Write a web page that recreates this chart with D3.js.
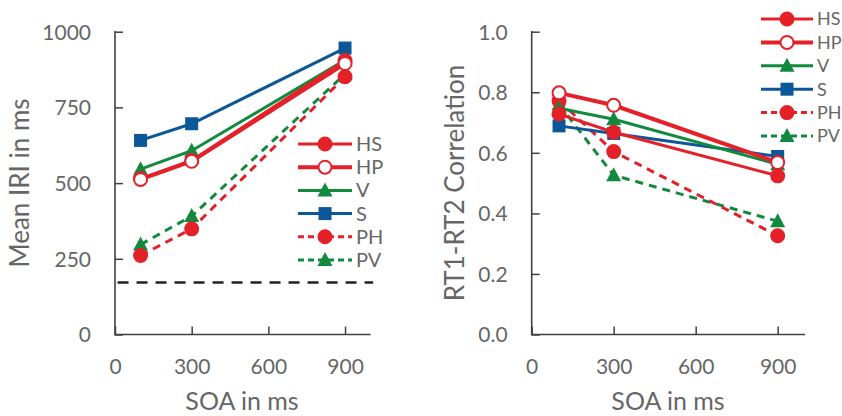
<!DOCTYPE html>
<html><head><meta charset="utf-8">
<script src="https://cdn.jsdelivr.net/npm/d3@7"></script>
<style>body{margin:0;background:#fff}svg{display:block}text{font-family:Lato,"Open Sans",sans-serif}</style>
</head><body><svg id="c" width="842" height="416"></svg>
<script>
const soa = [100, 300, 900];
const seriesNames = ["HS", "HP", "V", "S", "PH", "PV"];
// Left panel: Mean IRI in ms
const iriHS = [515, 575, 905];
const iriHP = [512, 572, 895];
const iriV  = [546, 607, 906];
const iriS  = [641, 696, 946];
const iriPH = [261, 349, 851];
const iriPV = [297, 391, 860];
const iriBaseline = 172;
// Right panel: RT1-RT2 correlation
const corHS = [0.728, 0.668, 0.524];
const corHP = [0.798, 0.757, 0.568];
const corV  = [0.747, 0.711, 0.562];
const corS  = [0.689, 0.664, 0.588];
const corPH = [0.772, 0.604, 0.326];
const corPV = [0.760, 0.526, 0.374];
const xTicks = [0, 300, 600, 900];
const yTicksL = [0, 250, 500, 750, 1000];
const yTicksR = [0, 0.2, 0.4, 0.6, 0.8, 1.0];

const RED = "#E42129", GREEN = "#128A3E", BLUE = "#0B5798", GRAY = "#666666", AX = "#404040";
const style = {
  HS: {color: RED, dash: null, marker: "circle", fill: RED, w: 3},
  HP: {color: RED, dash: null, marker: "circle", fill: "#fff", w: 4},
  V:  {color: GREEN, dash: null, marker: "triangle", fill: GREEN, w: 3},
  S:  {color: BLUE, dash: null, marker: "square", fill: BLUE, w: 3},
  PH: {color: RED, dash: "8,6", marker: "circle", fill: RED, w: 3},
  PV: {color: GREEN, dash: "8,6", marker: "triangle", fill: GREEN, w: 3}
};
const svg = d3.select("#c");

function marker(g, type, x, y, s) {
  if (type === "circle") {
    g.append("circle").attr("cx", x).attr("cy", y).attr("r", 6.5)
      .attr("fill", s.fill).attr("stroke", s.color).attr("stroke-width", 2);
  } else if (type === "square") {
    g.append("rect").attr("x", x - 6.5).attr("y", y - 6.5).attr("width", 13).attr("height", 13).attr("fill", s.fill);
  } else {
    g.append("path").attr("d", `M${x},${y-8}L${x+7.5},${y+6}L${x-7.5},${y+6}Z`).attr("fill", s.fill);
  }
}

function panel(opt) {
  const x = d3.scaleLinear().domain([0, 1000]).range([opt.x0, opt.x1]);
  const y = d3.scaleLinear().domain(opt.yDomain).range([334.5, 31.7]);
  const g = svg.append("g");
  const ya = g.append("g").attr("transform", `translate(${opt.x0},0)`)
    .call(d3.axisRight(y).tickValues(opt.yTicks).tickSize(8).tickFormat(opt.fmt));
  ya.select(".domain").remove();
  ya.selectAll("line").attr("stroke", AX).attr("stroke-width", 1.5);
  ya.selectAll("text").attr("x", -24).attr("text-anchor", "end").attr("fill", GRAY)
    .attr("font-size", 21).attr("dy", "0.35em");
  const xa = g.append("g").attr("transform", `translate(0,334.5)`)
    .call(d3.axisTop(x).tickValues(xTicks).tickSize(8).tickFormat(d3.format("d")));
  xa.select(".domain").remove();
  xa.selectAll("line").attr("stroke", AX).attr("stroke-width", 1.5);
  xa.selectAll("text").attr("y", 39).attr("fill", GRAY).attr("font-size", 21).attr("dy", 0);
  g.append("line").attr("x1", opt.x0).attr("x2", opt.x0).attr("y1", 31).attr("y2", 335.3).attr("stroke", AX).attr("stroke-width", 1.6);
  g.append("line").attr("x1", opt.x0 - 0.8).attr("x2", opt.x1).attr("y1", 334.5).attr("y2", 334.5).attr("stroke", AX).attr("stroke-width", 1.6);
  g.append("text").attr("transform", `translate(${opt.ytx},183) rotate(-90)`).attr("text-anchor", "middle")
    .attr("dy", "0.35em").attr("fill", GRAY).attr("font-size", 26).text(opt.ytitle);
  g.append("text").attr("x", opt.xtx).attr("y", 410).attr("text-anchor", "middle")
    .attr("fill", GRAY).attr("font-size", 25).text("SOA in ms");
  if (opt.baseline != null) {
    g.append("line").attr("x1", x(10)).attr("x2", x(1010)).attr("y1", y(opt.baseline)).attr("y2", y(opt.baseline))
      .attr("stroke", "#222").attr("stroke-width", 2.5).attr("stroke-dasharray", "11,8");
  }
  const line = d3.line().x((d, i) => x(soa[i])).y(d => y(d));
  const order = ["PV", "PH", "S", "V", "HS", "HP"];
  order.forEach(n => {
    const s = style[n];
    g.append("path").attr("d", line(opt.data[n])).attr("fill", "none").attr("stroke", s.color)
      .attr("stroke-width", s.w).attr("stroke-dasharray", s.dash);
  });
  order.forEach(n => {
    const s = style[n];
    opt.data[n].forEach((v, i) => marker(g, s.marker, x(soa[i]), y(v), s));
  });
  const lg = g.append("g");
  seriesNames.forEach((n, i) => {
    const s = style[n];
    const yy = opt.ly + i * opt.ldy;
    lg.append("line").attr("x1", opt.lx).attr("x2", opt.lx + opt.lw).attr("y1", yy).attr("y2", yy)
      .attr("stroke", s.color).attr("stroke-width", s.w).attr("stroke-dasharray", s.dash ? "6,4" : null);
    marker(lg, s.marker, opt.lx + opt.lw / 2, yy, s);
    lg.append("text").attr("x", opt.lx + opt.lw + 4).attr("y", yy).attr("dy", "0.35em")
      .attr("fill", GRAY).attr("font-size", opt.lfs).text(n);
  });
}

panel({x0: 115, x1: 370.6, yDomain: [0, 1000], yTicks: yTicksL, fmt: d3.format("d"),
  ytitle: "Mean IRI in ms", ytx: 20, xtx: 242,
  baseline: iriBaseline,
  data: {HS: iriHS, HP: iriHP, V: iriV, S: iriS, PH: iriPH, PV: iriPV},
  lx: 298, lw: 54, ly: 144, ldy: 23.2, lfs: 20});
panel({x0: 531.7, x1: 805, yDomain: [0, 1], yTicks: yTicksR, fmt: d3.format(".1f"),
  ytitle: "RT1-RT2 Correlation", ytx: 455, xtx: 668,
  baseline: null,
  data: {HS: corHS, HP: corHP, V: corV, S: corS, PH: corPH, PV: corPV},
  lx: 761, lw: 52, ly: 19, ldy: 23.4, lfs: 18});
</script></body></html>
